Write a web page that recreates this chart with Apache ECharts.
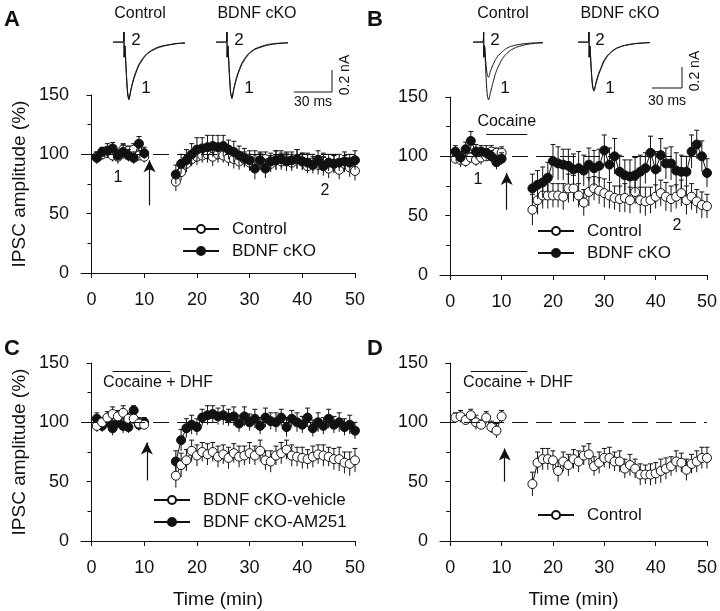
<!DOCTYPE html>
<html>
<head>
<meta charset="utf-8">
<script src="https://cdn.jsdelivr.net/npm/echarts@6/dist/echarts.min.js"></script>
<style>
  html, body { margin: 0; padding: 0; background: #fff; }
  #chart { width: 720px; height: 611px; }
</style>
</head>
<body>
<div id="chart"></div>
<script>
// ----------------------
// Dados
// ----------------------
const tBase = [1, 2, 3, 4, 5, 6, 7, 8, 9, 10];
const tPost = [16, 17, 18, 19, 20, 21, 22, 23, 24, 25, 26, 27, 28, 29, 30, 31, 32, 33, 34, 35,
               36, 37, 38, 39, 40, 41, 42, 43, 44, 45, 46, 47, 48, 49, 50];
const xTicks = [0, 10, 20, 30, 40, 50];

// Painel A
const aCtrlBase = [98, 100, 101, 99, 98, 104, 103, 104, 99, 98];
const aCtrlPost = [77, 85, 92, 96, 98, 99, 100, 98, 100, 99, 97, 96, 94, 96, 93, 95, 94, 96, 92, 95,
                   94, 95, 93, 96, 94, 90, 93, 91, 94, 88, 92, 87, 92, 89, 86];
const aCtrlErrBase = [4, 5, 4, 5, 6, 5, 4, 5, 4, 5];
const aCtrlErrPost = [8, 7, 7, 6, 7, 6, 7, 8, 7, 6, 7, 8, 7, 6, 7, 8, 7, 6, 7, 8,
                      7, 6, 7, 8, 7, 6, 7, 8, 7, 8, 7, 8, 7, 8, 8];
const aKoBase = [97, 102, 103, 105, 99, 102, 99, 97, 109, 101];
const aKoPost = [83, 92, 95, 100, 104, 105, 106, 107, 106, 107, 104, 102, 99, 97, 95, 88, 95, 88, 94, 95,
                 96, 94, 95, 96, 94, 93, 91, 95, 90, 93, 92, 93, 94, 93, 95];
const aKoErrBase = [5, 4, 6, 5, 4, 6, 5, 5, 6, 5];
const aKoErrPost = [8, 8, 9, 9, 10, 9, 10, 9, 10, 9, 8, 9, 8, 8, 8, 9, 7, 8, 7, 8,
                    7, 8, 7, 8, 7, 8, 7, 8, 8, 7, 8, 7, 8, 7, 8];

// Painel B
const bCtrlBase = [98, 97, 96, 99, 97, 99, 100, 104, 103, 103];
const bCtrlPost = [55, 63, 67, 67, 67, 67, 66, 73, 73, 67, 61, 70, 73, 71, 69, 67, 65, 64, 65, 63,
                   70, 63, 62, 63, 66, 69, 66, 64, 66, 69, 63, 66, 62, 59, 58];
const bCtrlErrBase = [4, 6, 5, 4, 5, 6, 4, 5, 4, 5];
const bCtrlErrPost = [13, 12, 11, 11, 10, 10, 11, 12, 11, 10, 11, 12, 10, 11, 12, 11, 10, 11, 12, 11,
                      10, 11, 12, 11, 10, 11, 12, 11, 10, 11, 12, 11, 10, 11, 10];
const bKoBase = [104, 99, 106, 113, 104, 104, 103, 100, 95, 98];
const bKoPost = [73, 76, 78, 82, 96, 94, 93, 92, 89, 90, 88, 93, 90, 92, 105, 93, 100, 87, 84, 83,
                 84, 87, 90, 103, 89, 101, 94, 94, 88, 87, 87, 104, 110, 100, 86];
const bKoErrBase = [5, 5, 6, 8, 6, 5, 6, 5, 6, 5];
const bKoErrPost = [12, 12, 13, 13, 14, 14, 13, 14, 13, 14, 13, 14, 15, 14, 13, 14, 15, 14, 13, 14,
                    15, 14, 13, 14, 15, 14, 13, 14, 15, 14, 13, 14, 12, 13, 12];

// Painel C
const cVehBase = [97, 100, 104, 107, 105, 108, 103, 103, 99, 98];
const cVehPost = [55, 64, 68, 76, 72, 75, 73, 75, 71, 73, 70, 74, 71, 72, 74, 72, 76, 68, 67, 72,
                  74, 77, 72, 71, 70, 69, 71, 73, 72, 71, 69, 69, 66, 65, 68];
const cVehErrBase = [5, 4, 5, 6, 5, 6, 5, 4, 5, 4];
const cVehErrPost = [10, 10, 9, 9, 9, 8, 9, 8, 9, 8, 9, 8, 9, 8, 9, 8, 9, 8, 9, 8,
                     9, 8, 9, 8, 9, 8, 9, 8, 9, 8, 9, 10, 9, 10, 10];
const cAmBase = [103, 97, 100, 95, 100, 97, 96, 110, 98, 100];
const cAmPost = [67, 85, 95, 98, 96, 104, 106, 107, 105, 106, 104, 105, 99, 105, 100, 103, 97, 104, 101, 100,
                 104, 96, 103, 100, 98, 104, 95, 100, 97, 103, 98, 100, 96, 98, 93];
const cAmErrBase = [5, 5, 4, 6, 5, 6, 5, 4, 5, 4];
const cAmErrPost = [9, 9, 8, 8, 7, 7, 8, 7, 7, 8, 7, 8, 7, 8, 7, 8, 7, 8, 7, 8,
                    7, 8, 7, 8, 7, 8, 7, 8, 7, 8, 7, 8, 7, 8, 7];

// Painel D
const dCtrlBase = [104, 105, 102, 106, 100, 98, 104, 96, 93, 105];
const dCtrlPost = [48, 66, 69, 69, 68, 59, 67, 64, 69, 67, 72, 73, 63, 66, 70, 70, 67, 67, 61, 64,
                   61, 56, 56, 56, 57, 59, 61, 63, 67, 66, 60, 65, 67, 70, 70];
const dCtrlErrBase = [4, 5, 4, 5, 6, 4, 5, 5, 6, 5];
const dCtrlErrPost = [10, 9, 9, 9, 8, 9, 8, 9, 8, 9, 8, 9, 8, 9, 8, 9, 8, 9, 8, 9,
                      8, 9, 8, 9, 9, 10, 9, 8, 9, 8, 9, 8, 9, 9, 9];

// Traços de IPSC (ms, nA)
const traceT = [0, 8, 8.5, 8.7, 9.2, 10.4, 11.4, 12.4, 14, 16, 18, 20, 23, 26, 30, 35, 40, 45, 50, 56];
const trACtrl1 = [0, 0, 0.08, -0.12, -0.03, -0.26, -0.42, -0.46, -0.38, -0.3, -0.24, -0.19, -0.14, -0.1, -0.07, -0.045, -0.03, -0.02, -0.012, -0.008];
const trACtrl2 = [0, 0, 0.08, -0.12, -0.03, -0.25, -0.40, -0.45, -0.37, -0.29, -0.23, -0.18, -0.13, -0.095, -0.065, -0.04, -0.027, -0.018, -0.01, -0.006];
const trAKo1 = [0, 0, 0.08, -0.12, -0.03, -0.26, -0.41, -0.45, -0.37, -0.29, -0.23, -0.18, -0.13, -0.09, -0.06, -0.04, -0.025, -0.016, -0.01, -0.006];
const trAKo2 = [0, 0, 0.08, -0.12, -0.03, -0.25, -0.40, -0.44, -0.36, -0.28, -0.22, -0.17, -0.12, -0.085, -0.055, -0.035, -0.02, -0.012, -0.008, -0.005];
const trBCtrl1 = [0, 0, 0.08, -0.12, -0.03, -0.27, -0.42, -0.46, -0.40, -0.32, -0.25, -0.2, -0.14, -0.1, -0.065, -0.04, -0.025, -0.015, -0.01, -0.005];
const trBCtrl2 = [0, 0, 0.08, -0.12, -0.03, -0.18, -0.26, -0.28, -0.23, -0.18, -0.14, -0.11, -0.08, -0.055, -0.035, -0.022, -0.014, -0.009, -0.006, -0.004];
const trBKo1 = [0, 0, 0.08, -0.12, -0.03, -0.24, -0.36, -0.39, -0.33, -0.26, -0.21, -0.16, -0.11, -0.08, -0.05, -0.03, -0.02, -0.012, -0.008, -0.004];
const trBKo2 = [0, 0, 0.08, -0.12, -0.03, -0.23, -0.35, -0.38, -0.32, -0.25, -0.2, -0.15, -0.105, -0.075, -0.048, -0.03, -0.018, -0.011, -0.007, -0.004];

// ----------------------
// Estilo
// ----------------------
const FONT = '"Liberation Sans", Arial, sans-serif';
const INK = '#111';

// ----------------------
// Helpers
// ----------------------
function toData(base, post) {
  return base.map((v, i) => [tBase[i], v]).concat(['-'], post.map((v, i) => [tPost[i], v]));
}
function toErr(base, post, eb, ep) {
  return base.map((v, i) => [tBase[i], v - eb[i], v + eb[i]])
    .concat(post.map((v, i) => [tPost[i], v - ep[i], v + ep[i]]));
}

// barras de erro (só com a tampa de cima)
function errSeries(idx, data, z) {
  return {
    type: 'custom', xAxisIndex: idx, yAxisIndex: idx, z: z, silent: true,
    data: data,
    encode: { x: 0, y: [1, 2] },
    renderItem: (params, api) => {
      const lo = api.coord([api.value(0), api.value(1)]);
      const hi = api.coord([api.value(0), api.value(2)]);
      const st = { stroke: INK, lineWidth: 1 };
      return {
        type: 'group', children: [
          { type: 'line', shape: { x1: lo[0], y1: lo[1], x2: hi[0], y2: hi[1] }, style: st },
          { type: 'line', shape: { x1: hi[0] - 2.5, y1: hi[1], x2: hi[0] + 2.5, y2: hi[1] }, style: st }
        ]
      };
    }
  };
}

function lineSeries(idx, name, data, filled, z, markLine) {
  const s = {
    name: name, type: 'line', xAxisIndex: idx, yAxisIndex: idx, z: z,
    data: data, symbol: 'circle', symbolSize: 9, showSymbol: true,
    lineStyle: { color: INK, width: 1 },
    itemStyle: { color: filled ? INK : '#fff', borderColor: INK, borderWidth: 1 },
    animation: false
  };
  if (markLine) s.markLine = markLine;
  return s;
}

function marks(arrow, drug) {
  const data = [
    { yAxis: 100, lineStyle: { type: [16, 8], color: INK, width: 1 } },
    [{ coord: arrow[0], symbol: 'none' }, { coord: arrow[1], symbol: 'arrow' }]
  ];
  if (drug) {
    data.push([
      { coord: [drug.x0, drug.y], symbol: 'none', lineStyle: { color: INK, width: 1, type: 'solid' },
        label: { show: !!drug.text, position: 'middle', formatter: drug.text || '', distance: 4,
                 fontSize: 16, fontFamily: FONT, color: INK } },
      { coord: [drug.x1, drug.y], symbol: 'none' }
    ]);
  }
  return {
    silent: true, animation: false, symbol: 'none', symbolSize: [9, 12],
    label: { show: false },
    lineStyle: { color: INK, width: 1.2, type: 'solid' },
    data: data
  };
}

// grids dos painéis
const panelGrids = [
  { left: 81, top: 95, width: 274, height: 178 },
  { left: 440, top: 97, width: 273, height: 178 },
  { left: 81, top: 363, width: 274, height: 178 },
  { left: 440, top: 363, width: 273, height: 178 }
];
// grids dos traços
const traceGrids = [
  { left: 113, top: 27, width: 72, height: 78 },
  { left: 216, top: 27, width: 72, height: 78 },
  { left: 473, top: 27, width: 70, height: 78 },
  { left: 578, top: 27, width: 72, height: 78 }
];

const xAxes = panelGrids.map((g, i) => ({
  type: 'value', gridIndex: i, min: -2, max: 50,
  name: i >= 2 ? 'Time (min)' : '', nameLocation: 'middle', nameGap: 49,
  nameTextStyle: { fontSize: 19, fontFamily: FONT, color: INK },
  axisLine: { show: true, lineStyle: { color: INK, width: 1 } },
  axisTick: { show: true, length: 5, lineStyle: { color: INK }, customValues: xTicks },
  axisLabel: { fontSize: 18, fontFamily: FONT, color: INK, margin: 18, customValues: xTicks },
  splitLine: { show: false }
}));
const yAxes = panelGrids.map((g, i) => ({
  type: 'value', gridIndex: i, min: 0, max: 150, interval: 50,
  name: i % 2 === 0 ? 'IPSC amplitude (%)' : '', nameLocation: 'middle', nameGap: 52,
  nameTextStyle: { fontSize: 19, fontFamily: FONT, color: INK },
  axisLine: { show: true, lineStyle: { color: INK, width: 1 } },
  axisTick: { show: true, length: 5, lineStyle: { color: INK } },
  minorTick: { show: true, splitNumber: 2, length: 4, lineStyle: { color: INK } },
  axisLabel: { fontSize: 18, fontFamily: FONT, color: INK, margin: 12 },
  splitLine: { show: false }
}));
traceGrids.forEach((g, i) => {
  xAxes.push({ type: 'value', gridIndex: 4 + i, min: 0, max: 56, show: false });
  yAxes.push({ type: 'value', gridIndex: 4 + i, min: -0.5, max: 0.12, show: false });
});

function traceSeries(idx, vals) {
  return {
    type: 'line', xAxisIndex: idx, yAxisIndex: idx, showSymbol: false, symbol: 'none',
    data: vals.map((v, i) => [traceT[i], v]), smooth: 0.2,
    lineStyle: { color: INK, width: 1 }, animation: false, silent: true
  };
}

const series = [
  // A
  errSeries(0, toErr(aCtrlBase, aCtrlPost, aCtrlErrBase, aCtrlErrPost), 1),
  lineSeries(0, 'Control', toData(aCtrlBase, aCtrlPost), false, 2,
    marks([[11, 57], [11, 95]], null)),
  errSeries(0, toErr(aKoBase, aKoPost, aKoErrBase, aKoErrPost), 3),
  lineSeries(0, 'BDNF cKO', toData(aKoBase, aKoPost), true, 4),
  // B
  errSeries(1, toErr(bCtrlBase, bCtrlPost, bCtrlErrBase, bCtrlErrPost), 1),
  lineSeries(1, 'Control', toData(bCtrlBase, bCtrlPost), false, 2,
    marks([[11, 55], [11, 86]], { x0: 7, x1: 15, y: 119, text: 'Cocaine' })),
  errSeries(1, toErr(bKoBase, bKoPost, bKoErrBase, bKoErrPost), 3),
  lineSeries(1, 'BDNF cKO', toData(bKoBase, bKoPost), true, 4),
  // C
  errSeries(2, toErr(cAmBase, cAmPost, cAmErrBase, cAmErrPost), 1),
  lineSeries(2, 'BDNF cKO-AM251', toData(cAmBase, cAmPost), true, 2,
    marks([[10.5, 51], [10.5, 83]], { x0: 4, x1: 15, y: 143 })),
  errSeries(2, toErr(cVehBase, cVehPost, cVehErrBase, cVehErrPost), 3),
  lineSeries(2, 'BDNF cKO-vehicle', toData(cVehBase, cVehPost), false, 4),
  // D
  errSeries(3, toErr(dCtrlBase, dCtrlPost, dCtrlErrBase, dCtrlErrPost), 1),
  lineSeries(3, 'Control', toData(dCtrlBase, dCtrlPost), false, 2,
    marks([[10.6, 50], [10.6, 78]], { x0: 4, x1: 15, y: 143 })),
  // traços
  traceSeries(4, trACtrl1), traceSeries(4, trACtrl2),
  traceSeries(5, trAKo1), traceSeries(5, trAKo2),
  traceSeries(6, trBCtrl1), traceSeries(6, trBCtrl2),
  traceSeries(7, trBKo1), traceSeries(7, trBKo2)
];

function legendAt(left, top, names) {
  return {
    left: left, top: top, orient: 'vertical', padding: 0, itemGap: 2,
    itemWidth: 36, itemHeight: 10, selectedMode: false,
    textStyle: { fontSize: 17, fontFamily: FONT, color: INK, padding: [0, 0, 0, 8], lineHeight: 20 },
    data: names
  };
}

function txt(x, y, s, size, extra) {
  return Object.assign({
    type: 'text', x: x, y: y, silent: true,
    style: { text: s, fontSize: size, fontFamily: FONT, fill: INK, align: 'center', verticalAlign: 'middle' }
  }, extra || {});
}
function letter(x, y, s) {
  return {
    type: 'text', x: x, y: y, silent: true,
    style: { text: s, fontSize: 22, fontWeight: 'bold', fontFamily: FONT, fill: INK, align: 'center', verticalAlign: 'middle' }
  };
}
function seg(x1, y1, x2, y2) {
  return { type: 'line', silent: true, shape: { x1, y1, x2, y2 }, style: { stroke: INK, lineWidth: 1 } };
}

const graphics = [
  // letras dos painéis
  letter(12, 20, 'A'), letter(375, 20, 'B'), letter(12, 349, 'C'), letter(375, 349, 'D'),
  // rótulos das drogas (C e D)
  txt(158, 383, 'Cocaine + DHF', 16), txt(518, 383, 'Cocaine + DHF', 16),
  // títulos dos traços
  txt(140, 14, 'Control', 16), txt(257, 14, 'BDNF cKO', 16),
  txt(503, 14, 'Control', 16), txt(620, 14, 'BDNF cKO', 16),
  // números nos traços
  txt(136, 40, '2', 17), txt(146, 88, '1', 17),
  txt(239, 40, '2', 17), txt(249, 88, '1', 17),
  txt(495, 40, '2', 17), txt(505, 88, '1', 17),
  txt(600, 40, '2', 17), txt(610, 88, '1', 17),
  // números nos gráficos
  txt(118, 178, '1', 16), txt(325, 191, '2', 16),
  txt(478, 180, '1', 16), txt(677, 226, '2', 16),
  // barras de escala
  seg(294, 92, 332, 92), seg(332, 70, 332, 92),
  txt(313, 102, '30 ms', 14), txt(345, 75, '0.2 nA', 14, { rotation: Math.PI / 2 }),
  seg(652, 88, 682, 88), seg(682, 67, 682, 88),
  txt(667, 101, '30 ms', 14), txt(695, 71, '0.2 nA', 14, { rotation: Math.PI / 2 })
];

const chart = echarts.init(document.getElementById('chart'), null, { renderer: 'canvas' });
chart.setOption({
  animation: false,
  backgroundColor: '#fff',
  grid: panelGrids.concat(traceGrids),
  xAxis: xAxes,
  yAxis: yAxes,
  legend: [
    legendAt(182, 219, ['Control', 'BDNF cKO']),
    legendAt(537, 221, ['Control', 'BDNF cKO']),
    legendAt(153, 490, ['BDNF cKO-vehicle', 'BDNF cKO-AM251']),
    legendAt(537, 505, ['Control'])
  ],
  series: series,
  graphic: graphics
});
window.addEventListener('resize', () => chart.resize());
</script>
</body>
</html>
